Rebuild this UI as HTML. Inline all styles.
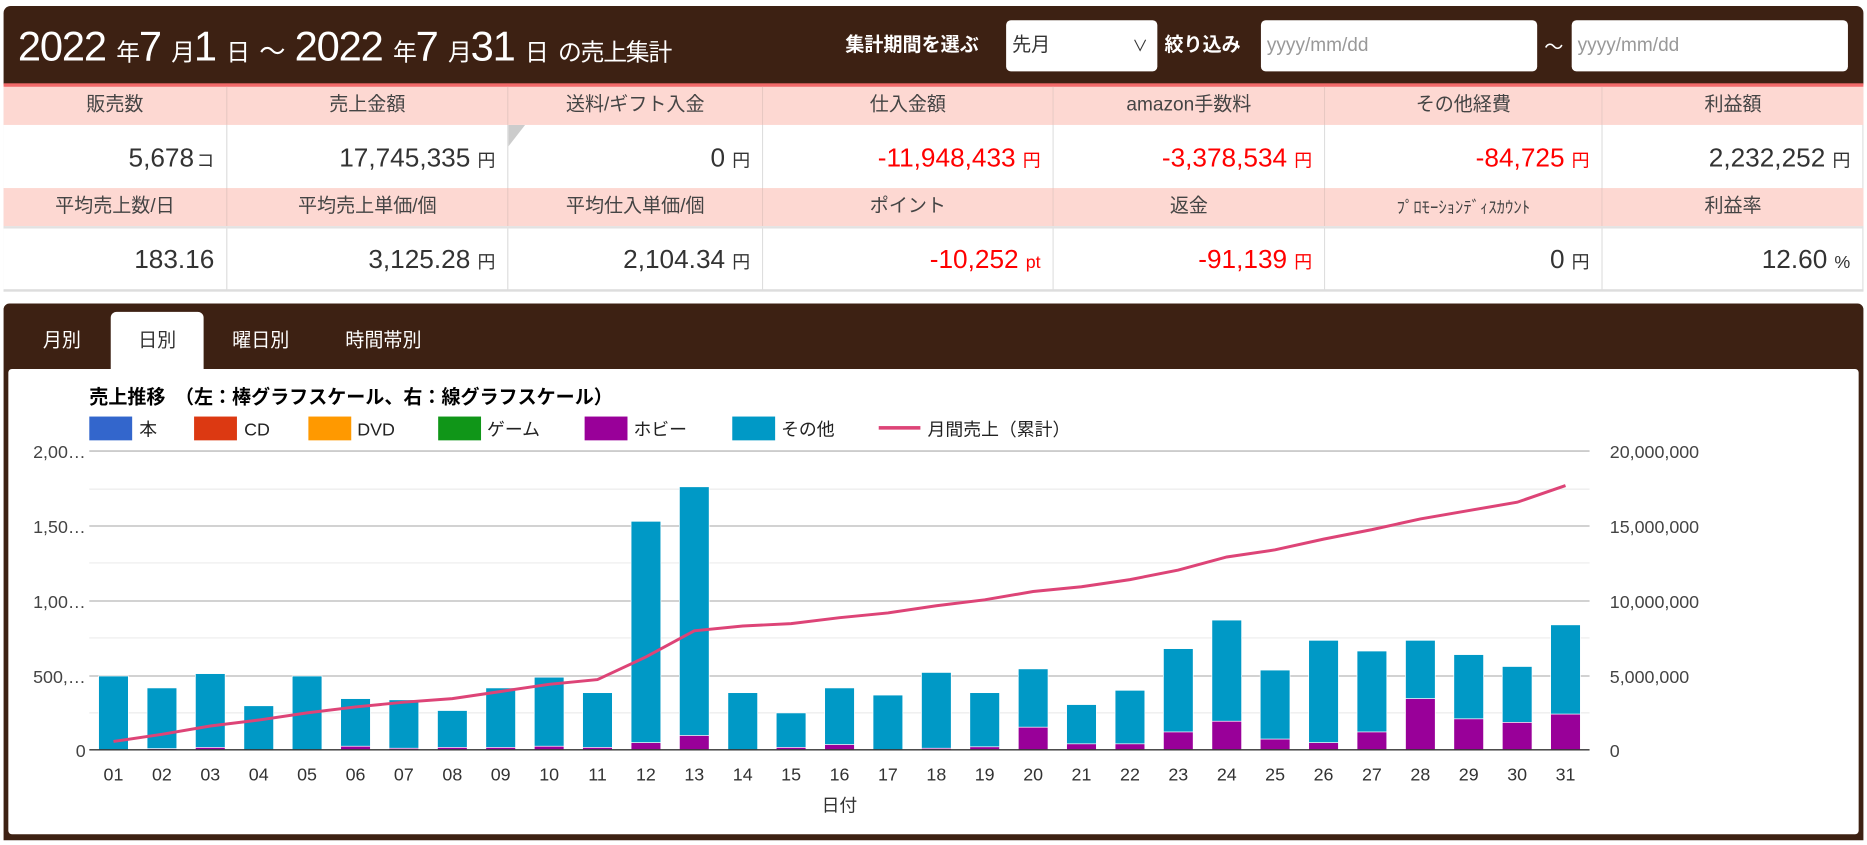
<!DOCTYPE html>
<html><head><meta charset="utf-8">
<style>
html,body{margin:0;padding:0;background:#fff;overflow:hidden;width:1867px;height:845px}
#w{position:absolute;left:0;top:0;width:1568px;height:710px;transform:scale(1.19068,1.19014);transform-origin:0 0;font-family:"Liberation Sans","Noto Sans CJK JP",sans-serif;color:#333}
.a{position:absolute}
.hd{position:absolute;background:#fdd8d2;text-align:center;font-size:16px;line-height:32px;color:#444;border-right:1px solid #e8c8c2}
.vl{position:absolute;background:#fff;text-align:right;font-size:22px;color:#333;border-right:1px solid #ddd;box-sizing:border-box;padding-right:10px}
.vl small{font-size:15px;margin-left:6px}
.r{color:#f00}
.inp{position:absolute;background:#fff;border-radius:4px;color:#999;font-size:16px;line-height:43px;padding-left:5px;box-sizing:border-box}
.tab{position:absolute;color:#fff;font-size:16px;top:272px}
</style></head><body><div id="w">
<!-- header bar -->
<div class="a" style="left:3px;top:5px;width:1562px;height:66px;background:#3d2113;border-radius:6px 6px 0 0"></div>
<div class="a" style="left:3px;top:70px;width:1562px;height:3px;background:#f26a6a"></div>
<div class="a" style="left:15px;top:20px;color:#fff;white-space:nowrap;font-size:35px;line-height:40px;letter-spacing:-1px">2022 <span style="font-size:20px">年</span>7 <span style="font-size:20px">月</span>1 <span style="font-size:20px">日</span> <span style="font-size:22px">～</span> 2022 <span style="font-size:20px">年</span>7 <span style="font-size:20px">月</span>31 <span style="font-size:20px">日</span> <span style="font-size:20px">の売上集計</span></div>
<div class="a" style="left:710px;top:24px;color:#fff;font-weight:bold;font-size:16px">集計期間を選ぶ</div>
<div class="inp" style="left:845px;top:17px;width:127px;height:43px;color:#333">先月<span style="position:absolute;right:8px;font-size:13px">∨</span></div>
<div class="a" style="left:978px;top:24px;color:#fff;font-weight:bold;font-size:16px">絞り込み</div>
<div class="inp" style="left:1059px;top:17px;width:232px;height:43px">yyyy/mm/dd</div>
<div class="a" style="left:1297px;top:26px;color:#fff;font-size:16px">～</div>
<div class="inp" style="left:1320px;top:17px;width:232px;height:43px">yyyy/mm/dd</div>
<!-- table -->
<div class="a" style="left:3px;top:73px;width:1562px;height:172px;border:1px solid #ddd;box-sizing:border-box;border-top:none"></div>
<div class="hd" style="left:3px;top:73px;width:187px;height:32px">販売数</div>
<div class="hd" style="left:191px;top:73px;width:235px;height:32px">売上金額</div>
<div class="hd" style="left:427px;top:73px;width:213px;height:32px">送料/ギフト入金</div>
<div class="hd" style="left:641px;top:73px;width:243px;height:32px">仕入金額</div>
<div class="hd" style="left:885px;top:73px;width:227px;height:32px">amazon手数料</div>
<div class="hd" style="left:1113px;top:73px;width:232px;height:32px">その他経費</div>
<div class="hd" style="left:1346px;top:73px;width:219px;height:32px;border:none">利益額</div>
<div class="vl" style="left:3px;top:105px;width:188px;height:53px;line-height:55px">5,678<small style="margin-left:2px">コ</small></div>
<div class="vl" style="left:191px;top:105px;width:236px;height:53px;line-height:55px">17,745,335<small>円</small></div>
<div class="vl" style="left:427px;top:105px;width:214px;height:53px;line-height:55px">0<small>円</small></div>
<div class="a" style="left:427px;top:105px;width:0;height:0;border-top:18px solid #ccc;border-right:14px solid transparent"></div>
<div class="vl r" style="left:641px;top:105px;width:244px;height:53px;line-height:55px">-11,948,433<small>円</small></div>
<div class="vl r" style="left:885px;top:105px;width:228px;height:53px;line-height:55px">-3,378,534<small>円</small></div>
<div class="vl r" style="left:1113px;top:105px;width:233px;height:53px;line-height:55px">-84,725<small>円</small></div>
<div class="vl" style="left:1346px;top:105px;width:218px;height:53px;line-height:55px;border:none">2,232,252<small>円</small></div>
<div class="hd" style="left:3px;top:158px;width:187px;height:32px">平均売上数/日</div>
<div class="hd" style="left:191px;top:158px;width:235px;height:32px">平均売上単価/個</div>
<div class="hd" style="left:427px;top:158px;width:213px;height:32px">平均仕入単価/個</div>
<div class="hd" style="left:641px;top:158px;width:243px;height:32px">ポイント</div>
<div class="hd" style="left:885px;top:158px;width:227px;height:32px">返金</div>
<div class="hd" style="left:1113px;top:158px;width:232px;height:32px;font-size:14px">ﾌﾟﾛﾓｰｼｮﾝﾃﾞｨｽｶｳﾝﾄ</div>
<div class="hd" style="left:1346px;top:158px;width:219px;height:32px;border:none">利益率</div>
<div class="a" style="left:3px;top:190px;width:1562px;height:2px;background:#e2e2e2"></div>
<div class="vl" style="left:3px;top:192px;width:188px;height:52px;line-height:52px">183.16</div>
<div class="vl" style="left:191px;top:192px;width:236px;height:52px;line-height:52px">3,125.28<small>円</small></div>
<div class="vl" style="left:427px;top:192px;width:214px;height:52px;line-height:52px">2,104.34<small>円</small></div>
<div class="vl r" style="left:641px;top:192px;width:244px;height:52px;line-height:52px">-10,252<small>pt</small></div>
<div class="vl r" style="left:885px;top:192px;width:228px;height:52px;line-height:52px">-91,139<small>円</small></div>
<div class="vl" style="left:1113px;top:192px;width:233px;height:52px;line-height:52px">0<small>円</small></div>
<div class="vl" style="left:1346px;top:192px;width:218px;height:52px;line-height:52px;border:none">12.60<small>%</small></div>
<div class="a" style="left:3px;top:243px;width:1562px;height:2px;background:#ddd"></div>
<!-- chart panel -->
<div class="a" style="left:3px;top:255px;width:1562px;height:451px;background:#3d2113;border-radius:5px 5px 0 0"></div>
<div class="a" style="left:93px;top:262px;width:78px;height:50px;background:#fff;border-radius:5px 5px 0 0"></div>
<div class="tab" style="left:36px">月別</div>
<div class="tab" style="left:116px;color:#333">日別</div>
<div class="tab" style="left:195px">曜日別</div>
<div class="tab" style="left:290px">時間帯別</div>
<div class="a" style="left:7px;top:310px;width:1554px;height:391px;background:#fff;border-radius:3px"></div>
<svg class="a" style="left:0;top:0" width="1568" height="710" viewBox="0 0 1568 710" font-family="Liberation Sans,Noto Sans CJK JP,sans-serif">
<text x="75" y="339" font-size="16" font-weight="bold" fill="#000">売上推移　（左：棒グラフスケール、右：線グラフスケール）</text>
<g font-size="15" fill="#222">
<rect x="75" y="350" width="36" height="20" fill="#3366cc"/><text x="117" y="366">本</text>
<rect x="163" y="350" width="36" height="20" fill="#dc3912"/><text x="205" y="366">CD</text>
<rect x="259" y="350" width="36" height="20" fill="#ff9900"/><text x="300" y="366">DVD</text>
<rect x="368" y="350" width="36" height="20" fill="#109618"/><text x="409" y="366">ゲーム</text>
<rect x="491" y="350" width="36" height="20" fill="#990099"/><text x="532" y="366">ホビー</text>
<rect x="615" y="350" width="36" height="20" fill="#0099c6"/><text x="656" y="366">その他</text>
<rect x="738" y="358" width="35" height="3" fill="#dd4477"/><text x="779" y="366">月間売上（累計）</text>
</g>
<g stroke="#ececec" stroke-width="1"><line x1="75" x2="1335" y1="411" y2="411"/><line x1="75" x2="1335" y1="473" y2="473"/><line x1="75" x2="1335" y1="536" y2="536"/><line x1="75" x2="1335" y1="599" y2="599"/></g>
<g stroke="#ccc" stroke-width="1.5"><line x1="75" x2="1335" y1="379" y2="379"/><line x1="75" x2="1335" y1="442" y2="442"/><line x1="75" x2="1335" y1="505" y2="505"/><line x1="75" x2="1335" y1="568" y2="568"/></g>
<g font-size="15" fill="#444" text-anchor="end"><text x="72" y="385">2,00…</text><text x="72" y="448">1,50…</text><text x="72" y="511">1,00…</text><text x="72" y="574">500,…</text><text x="72" y="636">0</text></g>
<g font-size="15" fill="#444"><text x="1352" y="385">20,000,000</text><text x="1352" y="448">15,000,000</text><text x="1352" y="511">10,000,000</text><text x="1352" y="574">5,000,000</text><text x="1352" y="636">0</text></g>
<g fill="#0099c6" stroke="#fff" stroke-width="0.6">
<rect x="82.8" y="568" width="25" height="62"/><rect x="123.5" y="578" width="25" height="52"/><rect x="164.1" y="566" width="25" height="64"/><rect x="204.8" y="593" width="25" height="37"/><rect x="245.4" y="568" width="25" height="62"/><rect x="286.1" y="587" width="25" height="43"/><rect x="326.7" y="588" width="25" height="42"/><rect x="367.4" y="597" width="25" height="33"/><rect x="408" y="578" width="25" height="52"/><rect x="448.7" y="569" width="25" height="61"/><rect x="489.3" y="582" width="25" height="48"/><rect x="530" y="438" width="25" height="192"/><rect x="570.6" y="409" width="25" height="221"/><rect x="611.3" y="582" width="25" height="48"/><rect x="651.9" y="599" width="25" height="31"/><rect x="692.6" y="578" width="25" height="52"/><rect x="733.2" y="584" width="25" height="46"/><rect x="773.9" y="565" width="25" height="65"/><rect x="814.5" y="582" width="25" height="48"/><rect x="855.2" y="562" width="25" height="68"/><rect x="895.8" y="592" width="25" height="38"/><rect x="936.5" y="580" width="25" height="50"/><rect x="977.1" y="545" width="25" height="85"/><rect x="1017.8" y="521" width="25" height="109"/><rect x="1058.4" y="563" width="25" height="67"/><rect x="1099.1" y="538" width="25" height="92"/><rect x="1139.7" y="547" width="25" height="83"/><rect x="1180.4" y="538" width="25" height="92"/><rect x="1221" y="550" width="25" height="80"/><rect x="1261.7" y="560" width="25" height="70"/><rect x="1302.3" y="525" width="25" height="105"/>
</g>
<g fill="#990099" stroke="#fff" stroke-width="0.6">
<rect x="123.5" y="629" width="25" height="1"/><rect x="164.1" y="628" width="25" height="2"/><rect x="286.1" y="627" width="25" height="3"/><rect x="326.7" y="628.7" width="25" height="1.3"/><rect x="367.4" y="628" width="25" height="2"/><rect x="408" y="628" width="25" height="2"/><rect x="448.7" y="627" width="25" height="3"/><rect x="489.3" y="628" width="25" height="2"/><rect x="530" y="624" width="25" height="6"/><rect x="570.6" y="618" width="25" height="12"/><rect x="651.9" y="628" width="25" height="2"/><rect x="692.6" y="625.6" width="25" height="4.4"/><rect x="773.9" y="628.7" width="25" height="1.3"/><rect x="814.5" y="627.5" width="25" height="2.5"/><rect x="855.2" y="611" width="25" height="19"/><rect x="895.8" y="625" width="25" height="5"/><rect x="936.5" y="625" width="25" height="5"/><rect x="977.1" y="615" width="25" height="15"/><rect x="1017.8" y="606" width="25" height="24"/><rect x="1058.4" y="621" width="25" height="9"/><rect x="1099.1" y="624" width="25" height="6"/><rect x="1139.7" y="615" width="25" height="15"/><rect x="1180.4" y="587" width="25" height="43"/><rect x="1221" y="604" width="25" height="26"/><rect x="1261.7" y="607" width="25" height="23"/><rect x="1302.3" y="600" width="25" height="30"/>
</g>
<line x1="75" x2="1335" y1="630" y2="630" stroke="#333" stroke-width="1.2"/>
<polyline fill="none" stroke="#dd4477" stroke-width="2.5" points="95.3,623 136,617 176.6,610 217.3,605 257.9,599 298.6,594 339.2,590 379.9,587 420.5,581 461.2,575 501.8,571 542.5,552 583.1,530 623.8,526 664.4,524 705.1,519 745.7,515 786.4,509 827,504 867.7,497 908.3,493 949,487 989.6,479 1030.3,468 1070.9,462 1111.6,453 1152.2,445 1192.9,436 1233.5,429 1274.2,422 1314.8,408"/>
<g font-size="15" fill="#333" text-anchor="middle">
<text x="95.3" y="656">01</text><text x="136" y="656">02</text><text x="176.6" y="656">03</text><text x="217.3" y="656">04</text><text x="257.9" y="656">05</text><text x="298.6" y="656">06</text><text x="339.2" y="656">07</text><text x="379.9" y="656">08</text><text x="420.5" y="656">09</text><text x="461.2" y="656">10</text><text x="501.8" y="656">11</text><text x="542.5" y="656">12</text><text x="583.1" y="656">13</text><text x="623.8" y="656">14</text><text x="664.4" y="656">15</text><text x="705.1" y="656">16</text><text x="745.7" y="656">17</text><text x="786.4" y="656">18</text><text x="827" y="656">19</text><text x="867.7" y="656">20</text><text x="908.3" y="656">21</text><text x="949" y="656">22</text><text x="989.6" y="656">23</text><text x="1030.3" y="656">24</text><text x="1070.9" y="656">25</text><text x="1111.6" y="656">26</text><text x="1152.2" y="656">27</text><text x="1192.9" y="656">28</text><text x="1233.5" y="656">29</text><text x="1274.2" y="656">30</text><text x="1314.8" y="656">31</text>
<text x="705" y="682">日付</text>
</g>
</svg>
</div></body></html>
